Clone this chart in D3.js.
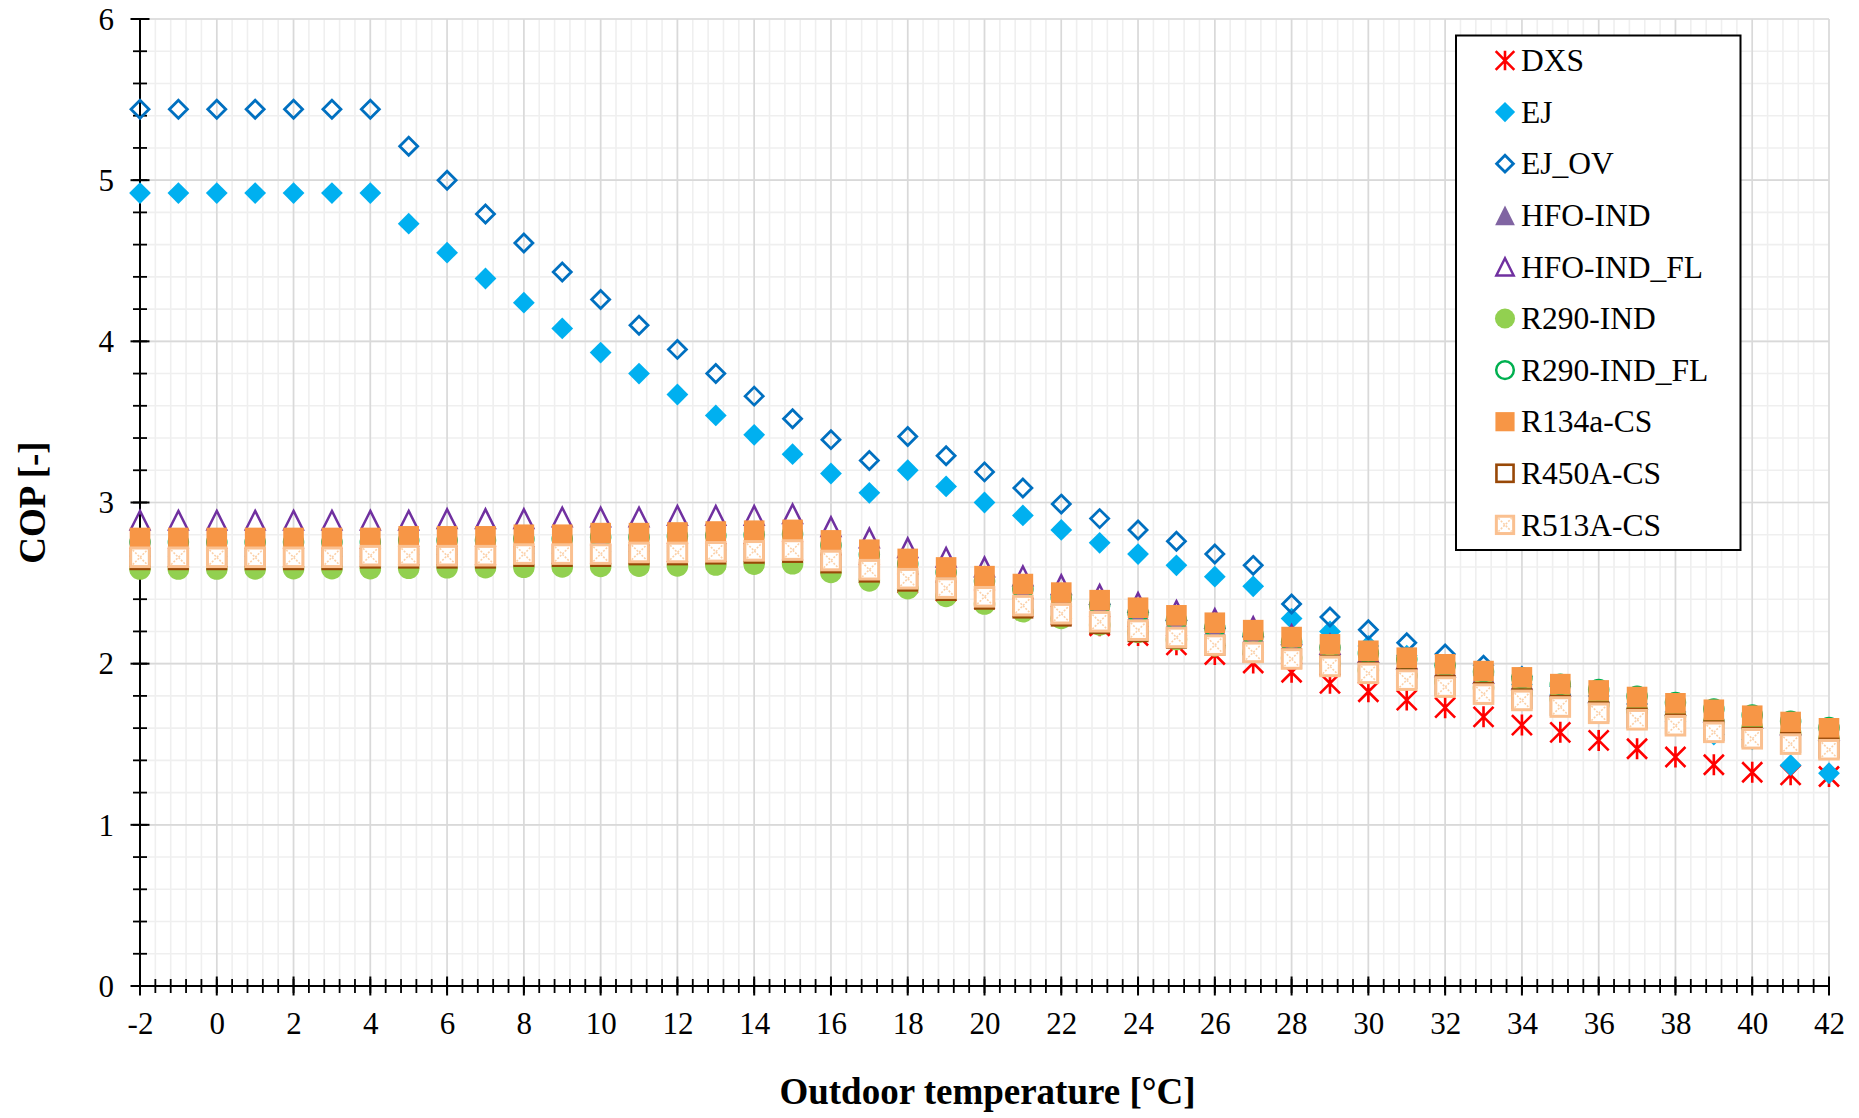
<!DOCTYPE html>
<html><head><meta charset="utf-8">
<script src="https://cdn.jsdelivr.net/npm/d3@7"></script>
<style>
body{margin:0;background:#fff}
svg{display:block}
text{font-family:"Liberation Serif","Times New Roman",serif;fill:#000}
</style></head>
<body><svg id="c" width="1859" height="1118"></svg>
<script>
// ---------------- DATA ----------------
const temps = [-2,-1,0,1,2,3,4,5,6,7,8,9,10,11,12,13,14,15,16,17,18,19,20,21,22,23,24,25,26,27,28,29,30,31,32,33,34,35,36,37,38,39,40,41,42];

const seriesNames = ["DXS","EJ","EJ_OV","HFO-IND","HFO-IND_FL","R290-IND","R290-IND_FL","R134a-CS","R450A-CS","R513A-CS"];

const dxs = [2.66,2.66,2.66,2.66,2.66,2.66,2.66,2.67,2.67,2.67,2.67,2.68,2.68,2.68,2.69,2.69,2.69,2.70,
  2.62,2.56,2.50,2.45,2.40,2.35,2.30,2.235,2.175,2.117,2.057,2.004,1.947,1.878,1.826,1.774,1.727,1.67,1.619,1.574,1.524,1.472,1.421,1.373,1.326,1.31,1.30];

const ej = [4.92,4.92,4.92,4.92,4.92,4.92,4.92,
  4.73,4.55,4.39,4.24,4.08,3.93,3.80,3.67,3.54,3.42,3.30,3.18,3.06,
  3.20,3.10,3.00,2.92,2.83,2.75,2.68,2.61,2.54,2.48,
  2.28,2.20,2.11,2.05,1.99,1.93,1.87,1.81,1.76,1.70,1.64,1.56,1.53,1.37,1.32];

const ejOv = [5.44,5.44,5.44,5.44,5.44,5.44,5.44,
  5.21,5.00,4.79,4.61,4.43,4.26,4.10,3.95,3.80,3.66,3.52,3.39,3.26,
  3.41,3.29,3.19,3.09,2.99,2.90,2.83,2.76,2.68,2.61,
  2.37,2.29,2.21,2.13,2.06,1.99,1.92,1.86,1.80,1.75,1.70,1.65,1.60,1.56,1.52];

const hfoInd = [2.73,2.73,2.73,2.73,2.73,2.73,2.73,2.74,2.74,2.74,2.75,2.75,2.76,2.76,2.764,2.77,2.775,2.78,
  2.735,2.677,2.62,2.567,2.513,2.464,
  2.431,2.384,2.337,2.29,2.244,2.198,2.155,2.11,2.07,2.027,1.986,1.944,1.905,1.863,1.824,1.783,1.744,1.704,1.667,1.628,1.589];

const hfoIndFl = [2.89,2.89,2.89,2.89,2.89,2.89,2.89,2.89,2.90,2.90,2.90,2.91,2.91,2.91,2.92,2.92,2.92,2.93,
  2.85,2.78,2.72,2.66,2.60,2.545,2.49,2.43,2.38,2.33,2.28,2.23,2.18,
  2.12,2.07,2.03,1.98,1.94,1.90,1.86,1.82,1.78,1.74,1.70,1.66,1.62,1.585];

const r290Ind = [2.587,2.587,2.587,2.588,2.59,2.59,2.59,2.592,2.595,2.596,2.598,2.60,2.603,2.605,2.607,2.612,2.617,2.62,
  2.566,2.514,2.465,2.417,2.37,2.322,2.281,2.24,2.195,2.15,2.11,2.07,2.035,2.00,1.96,1.925,1.89,1.85,1.815,1.78,1.745,1.71,1.675,1.64,1.605,1.57,1.535];

const r290IndFl = [2.755,2.755,2.755,2.755,2.755,2.755,2.755,2.765,2.765,2.765,2.775,2.775,2.785,2.785,2.79,2.795,2.80,2.805,
  2.735,2.677,2.62,2.567,2.513,2.464,2.411,2.364,2.317,2.27,2.224,2.178,2.135,
  2.10,2.065,2.027,1.99,1.95,1.912,1.872,
  1.839,1.798,1.759,1.719,1.682,1.643,1.604];

const r134a = [2.78,2.78,2.78,2.78,2.78,2.78,2.78,2.79,2.79,2.79,2.80,2.80,2.81,2.81,2.814,2.82,2.825,2.83,
  2.765,2.707,2.65,2.597,2.543,2.494,2.441,2.394,2.347,2.30,2.254,2.208,2.165,2.12,2.08,2.037,1.996,1.954,1.915,1.873,1.834,1.793,1.754,1.714,1.677,1.638,1.599];

const r450a = [2.645,2.645,2.645,2.645,2.645,2.645,2.655,2.655,2.655,2.655,2.665,2.665,2.665,2.675,2.675,2.68,2.685,2.69,
  2.625,2.568,2.512,2.454,2.40,2.345,2.295,2.248,2.198,2.158,2.113,2.07,2.032,1.988,1.948,1.907,1.865,1.821,1.782,1.741,1.702,1.662,1.625,1.584,1.544,1.511,1.476];

const r513a = [2.66,2.66,2.66,2.66,2.66,2.66,2.67,2.67,2.67,2.67,2.68,2.68,2.68,2.69,2.69,2.694,2.70,2.705,
  2.64,2.583,2.527,2.469,2.415,2.36,2.31,2.26,2.208,2.163,2.115,2.07,2.029,1.983,1.94,1.898,1.855,1.811,1.772,1.731,1.692,1.652,1.615,1.574,1.534,1.501,1.466];

const xTickValues = [-2,0,2,4,6,8,10,12,14,16,18,20,22,24,26,28,30,32,34,36,38,40,42];
const xTickLabels = ["-2","0","2","4","6","8","10","12","14","16","18","20","22","24","26","28","30","32","34","36","38","40","42"];
const yTickValues = [0,1,2,3,4,5,6];
const yTickLabels = ["0","1","2","3","4","5","6"];

const xTitle = "Outdoor temperature [°C]";
const yTitle = "COP [-]";

// ---------------- STYLE ----------------
const seriesData = [dxs, ej, ejOv, hfoInd, hfoIndFl, r290Ind, r290IndFl, r134a, r450a, r513a];
const seriesStyle = [
  {type:"star", color:"#ff0000"},
  {type:"diamond", color:"#00b0f0"},
  {type:"diamondOpen", color:"#0070c0"},
  {type:"triangle", color:"#8064a2"},
  {type:"triangleOpen", color:"#7030a0"},
  {type:"circle", color:"#92d050"},
  {type:"circleOpen", color:"#00b050"},
  {type:"square", color:"#f79646"},
  {type:"squareOpen", color:"#984807"},
  {type:"squarePattern", color:"#fac090"}
];

const svg = d3.select("#c");
const x = d3.scaleLinear().domain([-2, 42]).range([140, 1829]);
const y = d3.scaleLinear().domain([0, 6]).range([986, 19]);

// ---------------- GRID ----------------
const xMinor = d3.range(0, 111).map(i => (-20 + i * 4) / 10);
const yMinor = d3.range(0, 31).map(i => i / 5);
const grid = svg.append("g");
grid.selectAll(".vmin").data(xMinor).enter().append("line")
  .attr("x1", d => x(d)).attr("x2", d => x(d)).attr("y1", y(0)).attr("y2", y(6))
  .attr("stroke", "#efefef").attr("stroke-width", 1.6);
grid.selectAll(".hmin").data(yMinor).enter().append("line")
  .attr("y1", d => y(d)).attr("y2", d => y(d)).attr("x1", x(-2)).attr("x2", x(42))
  .attr("stroke", "#efefef").attr("stroke-width", 1.6);
grid.selectAll(".vmaj").data(xTickValues).enter().append("line")
  .attr("x1", d => x(d)).attr("x2", d => x(d)).attr("y1", y(0)).attr("y2", y(6))
  .attr("stroke", "#d9d9d9").attr("stroke-width", 1.6);
grid.selectAll(".hmaj").data(yTickValues).enter().append("line")
  .attr("y1", d => y(d)).attr("y2", d => y(d)).attr("x1", x(-2)).attr("x2", x(42))
  .attr("stroke", "#d9d9d9").attr("stroke-width", 1.6);

// ---------------- AXES ----------------
const axes = svg.append("g");
axes.append("line").attr("x1", x(-2)).attr("x2", x(-2)).attr("y1", y(0)).attr("y2", y(6)).attr("stroke", "#000").attr("stroke-width", 2);
axes.append("line").attr("x1", x(-2)).attr("x2", x(42)).attr("y1", y(0)).attr("y2", y(0)).attr("stroke", "#000").attr("stroke-width", 2);
// cross ticks
axes.selectAll(".xtmin").data(xMinor).enter().append("line")
  .attr("x1", d => x(d)).attr("x2", d => x(d)).attr("y1", y(0) - 7).attr("y2", y(0) + 7)
  .attr("stroke", "#000").attr("stroke-width", 1.8);
axes.selectAll(".xtmaj").data(xTickValues).enter().append("line")
  .attr("x1", d => x(d)).attr("x2", d => x(d)).attr("y1", y(0) - 9.5).attr("y2", y(0) + 9.5)
  .attr("stroke", "#000").attr("stroke-width", 2);
axes.selectAll(".ytmin").data(yMinor).enter().append("line")
  .attr("y1", d => y(d)).attr("y2", d => y(d)).attr("x1", x(-2) - 7).attr("x2", x(-2) + 7)
  .attr("stroke", "#000").attr("stroke-width", 1.8);
axes.selectAll(".ytmaj").data(yTickValues).enter().append("line")
  .attr("y1", d => y(d)).attr("y2", d => y(d)).attr("x1", x(-2) - 9.5).attr("x2", x(-2) + 9.5)
  .attr("stroke", "#000").attr("stroke-width", 2);

// tick labels through d3 axes
const xAxis = svg.append("g").attr("transform", `translate(0,${y(0)})`)
  .call(d3.axisBottom(x).tickValues(xTickValues).tickFormat((d, i) => xTickLabels[i]).tickSize(0).tickPadding(26));
xAxis.select(".domain").remove();
xAxis.selectAll("text").attr("font-size", 31).attr("font-family", '"Liberation Serif",serif').attr("fill", "#000");

const yAxis = svg.append("g").attr("transform", `translate(${x(-2)},0)`)
  .call(d3.axisLeft(y).tickValues(yTickValues).tickFormat((d, i) => yTickLabels[i]).tickSize(0).tickPadding(26));
yAxis.select(".domain").remove();
yAxis.selectAll("text").attr("font-size", 31).attr("dy", "0.33em").attr("font-family", '"Liberation Serif",serif').attr("fill", "#000");

// titles
svg.append("text").attr("x", (x(-2) + x(42)) / 2 + 3).attr("y", 1104)
  .attr("text-anchor", "middle").attr("font-size", 37).attr("font-weight", "bold").text(xTitle);
svg.append("text").attr("transform", `translate(45,${(y(0) + y(6)) / 2}) rotate(-90)`)
  .attr("text-anchor", "middle").attr("font-size", 37).attr("font-weight", "bold").text(yTitle);

// ---------------- MARKERS ----------------
function drawMarker(g, st, k) {
  const c = st.color;
  switch (st.type) {
    case "star": {
      const a = 10 * k, b = 10.5 * k;
      g.append("path").attr("d", `M${-a},${-a}L${a},${a}M${-a},${a}L${a},${-a}M0,${-b}L0,${b}`)
        .attr("stroke", c).attr("stroke-width", 2.6).attr("fill", "none");
      break;
    }
    case "diamond": {
      const h = 10.9 * k;
      g.append("path").attr("d", `M0,${-h}L${h},0L0,${h}L${-h},0Z`).attr("fill", c);
      break;
    }
    case "diamondOpen": {
      const h = 9 * k;
      g.append("path").attr("d", `M0,${-h}L${h},0L0,${h}L${-h},0Z`).attr("fill", "none")
        .attr("stroke", c).attr("stroke-width", 2.8);
      break;
    }
    case "triangle": {
      const h = 10.6 * k;
      g.append("path").attr("d", `M0,${-h}L${h},${h}L${-h},${h}Z`).attr("fill", c);
      break;
    }
    case "triangleOpen": {
      const h = 9.3 * k;
      g.append("path").attr("d", `M0,${-h}L${h},${h}L${-h},${h}Z`).attr("fill", "none")
        .attr("stroke", c).attr("stroke-width", 2.5);
      break;
    }
    case "circle": {
      g.append("circle").attr("r", 10.8 * k).attr("fill", c);
      break;
    }
    case "circleOpen": {
      g.append("circle").attr("r", 9.5 * k).attr("fill", "none").attr("stroke", c).attr("stroke-width", 2.5);
      break;
    }
    case "square": {
      const h = 10.3 * k;
      g.append("rect").attr("x", -h).attr("y", -h).attr("width", 2 * h).attr("height", 2 * h).attr("fill", c);
      break;
    }
    case "squareOpen": {
      const h = 9.2 * k;
      g.append("rect").attr("x", -h).attr("y", -h).attr("width", 2 * h).attr("height", 2 * h)
        .attr("fill", "none").attr("stroke", c).attr("stroke-width", 2.6);
      break;
    }
    case "squarePattern": {
      const h = 9.3 * k;
      g.append("rect").attr("x", -h).attr("y", -h).attr("width", 2 * h).attr("height", 2 * h)
        .attr("fill", "#fff").attr("stroke", c).attr("stroke-width", 3);
      const m = h - 2;
      g.append("path").attr("d", `M${-m},${-m}L${m},${m}M${-m},${m}L${m},${-m}`)
        .attr("stroke", "#fbd0a8").attr("stroke-width", 1.6).attr("stroke-dasharray", "2 1.5").attr("fill", "none");
      break;
    }
  }
}

const plot = svg.append("g");
seriesData.forEach((arr, si) => {
  const sg = plot.append("g").attr("class", "series-" + si);
  arr.forEach((v, i) => {
    const g = sg.append("g").attr("transform", `translate(${x(temps[i])},${y(v)})`);
    drawMarker(g, seriesStyle[si], 1);
  });
});

// ---------------- LEGEND ----------------
const lg = svg.append("g");
lg.append("rect").attr("x", 1456).attr("y", 35.5).attr("width", 284.5).attr("height", 514.5)
  .attr("fill", "#fff").attr("stroke", "#000").attr("stroke-width", 2);
seriesNames.forEach((name, i) => {
  const cy = 60.5 + 51.6 * i;
  const g = lg.append("g").attr("transform", `translate(1505,${cy})`);
  drawMarker(g, seriesStyle[i], 0.93);
  lg.append("text").attr("x", 1521).attr("y", cy).attr("dy", "0.34em").attr("font-size", 31.5).text(name);
});
</script>
</body></html>
